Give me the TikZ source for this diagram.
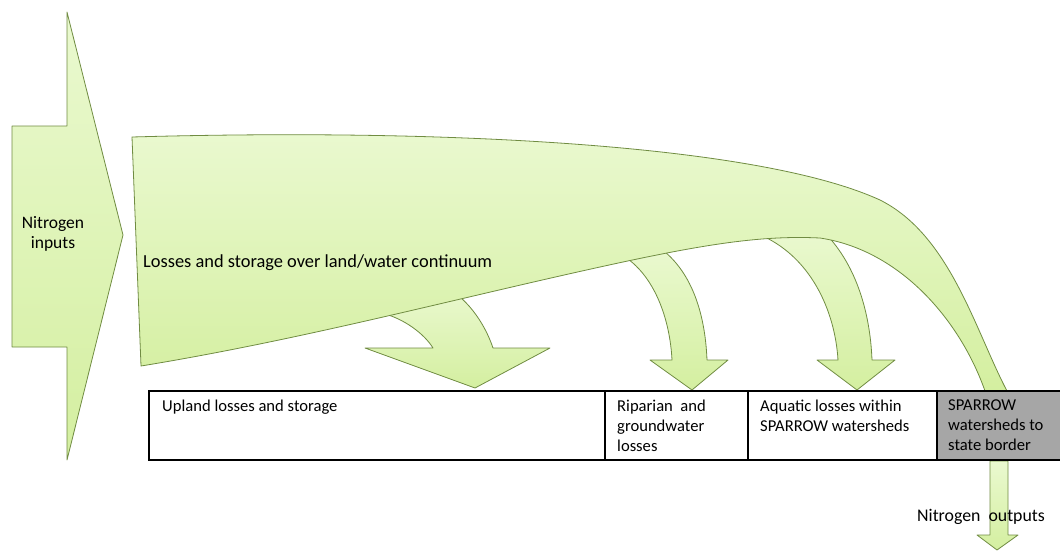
\documentclass[tikz,border=0pt]{standalone}
\usepackage{fontspec}
\setmainfont{Carlito}
\definecolor{gtop}{RGB}{234,249,208}
\definecolor{gbot}{RGB}{212,239,160}
\definecolor{gline}{RGB}{112,140,66}
\definecolor{cellgray}{RGB}{166,166,166}
\begin{document}
\begin{tikzpicture}[x=1pt,y=-1pt,
  flow/.style={draw=gline, line width=0.8pt, top color=gtop, bottom color=gbot, line join=round},
  biglbl/.style={inner sep=0pt, text=black, font=\fontsize{17.5}{20.5}\selectfont},
  celllbl/.style={inner sep=0pt, text=black, anchor=north west, align=left, font=\fontsize{16.6}{20}\selectfont},
  tableline/.style={draw=black, line width=2.2pt},
  divline/.style={draw=black, line width=1.6pt}]
\useasboundingbox (0,0) rectangle (1060,552);

% sub arrows (behind the main flow)
\path[flow] (378,312) .. controls (405,318) and (425,335) .. (433,348)
  -- (365,348) -- (475,388) -- (550,348) -- (493,348)
  .. controls (488,333) and (475,305) .. (448,288) -- cycle;
\path[flow] (622,255) .. controls (655,275) and (670,320) .. (672,360)
  -- (650,360) -- (692,390) -- (728,360) -- (707,360)
  .. controls (705,310) and (690,270) .. (660,248) -- cycle;
\path[flow] (758,234) .. controls (810,255) and (835,310) .. (838,360)
  -- (817,360) -- (857,390) -- (895,360) -- (872,360)
  .. controls (870,310) and (855,262) .. (822,230) -- cycle;

% main flow
\path[flow] (132,137) .. controls (450,128) and (760,145) .. (880,200)
  .. controls (950,235) and (975,330) .. (1007,391)
  -- (985,391)
  .. controls (960,320) and (900,250) .. (820,238)
  .. controls (760,235) and (700,245) .. (600,267)
  .. controls (450,300) and (300,340) .. (141,366) -- cycle;

% nitrogen inputs arrow
\path[flow] (12,126) -- (67,126) -- (67,12) -- (123,235) -- (67,460)
  -- (67,347) -- (12,347) -- cycle;

% nitrogen outputs arrow
\path[flow] (990,461) -- (990,535) -- (977,535) -- (997,550) -- (1018,535)
  -- (1008,535) -- (1008,461) -- cycle;

% table
\fill[cellgray] (937,391) rectangle (1060,460);
\draw[divline] (605,391) -- (605,460);
\draw[divline] (748,391) -- (748,460);
\draw[divline] (937,391) -- (937,460);
\draw[tableline] (1060,391) -- (149,391) -- (149,460) -- (1060,460);

% labels
\node[biglbl, align=center] (nin) at (53,234) {Nitrogen\\inputs};
\node[biglbl, anchor=base west, font=\fontsize{18.4}{21}\selectfont] (loss) at (143,267) {Losses and storage over land/water continuum};
\node[celllbl] (upland) at (162,400) {Upland losses and storage};
\node[celllbl] (riparian) at (617,400) {Riparian\ \ and\\groundwater\\losses};
\node[celllbl] (aquatic) at (760,400) {Aquatic losses within\\SPARROW watersheds};
\node[celllbl] (sparrow) at (948,400) {SPARROW\\watersheds to\\state border};
\node[biglbl, anchor=base west, font=\fontsize{17.8}{21}\selectfont] (nout) at (917,521) {Nitrogen\ \ outputs};
\end{tikzpicture}
\end{document}
